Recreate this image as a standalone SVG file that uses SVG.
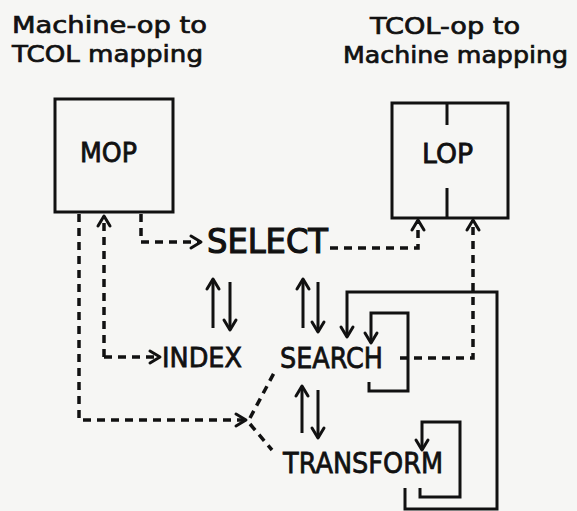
<svg xmlns="http://www.w3.org/2000/svg" width="577" height="511" viewBox="0 0 577 511">
<style>
.t{font-family:"DejaVu Sans","Liberation Sans",sans-serif;fill:#111;stroke:#111;stroke-width:0.8;}
.title{font-size:23px;stroke-width:0.7;}
.box{fill:none;stroke:#111;stroke-width:3;}
.solid{fill:none;stroke:#111;stroke-width:3;}
.dash{fill:none;stroke:#111;stroke-width:3.5;stroke-dasharray:8 6;}
.ah{fill:none;stroke:#111;stroke-width:3;stroke-dasharray:none;stroke-linecap:round;stroke-linejoin:round;}
</style>
<defs>
<marker id="arr" markerUnits="userSpaceOnUse" markerWidth="16" markerHeight="16" refX="11" refY="7" orient="auto" overflow="visible">
<path class="ah" d="M1,1 L11,7 L1,13"/>
</marker>
</defs>
<rect width="577" height="511" fill="#f6f6f4"/>

<g id="title-left">
<text class="t title" x="12" y="33" textLength="195" lengthAdjust="spacingAndGlyphs">Machine-op to</text>
<text class="t title" x="12" y="62" textLength="191" lengthAdjust="spacingAndGlyphs">TCOL mapping</text>
</g>
<g id="title-right">
<text class="t title" x="370" y="34" textLength="150" lengthAdjust="spacingAndGlyphs">TCOL-op to</text>
<text class="t title" x="343" y="63" textLength="225" lengthAdjust="spacingAndGlyphs">Machine mapping</text>
</g>

<g id="MOP">
<rect class="box" x="55" y="99" width="118" height="113"/>
<text class="t" x="80" y="162" font-size="26" textLength="57" lengthAdjust="spacingAndGlyphs">MOP</text>
</g>
<g id="LOP">
<rect class="box" x="392" y="103" width="116" height="115"/>
<path class="solid" d="M447,103 V125 M447,188 V218"/>
<text class="t" x="422" y="163" font-size="26" textLength="51" lengthAdjust="spacingAndGlyphs">LOP</text>
</g>
<g id="SELECT">
<text class="t" x="207" y="253" font-size="34" textLength="121" lengthAdjust="spacingAndGlyphs" style="stroke-width:1.2">SELECT</text>
</g>
<g id="INDEX">
<text class="t" x="162" y="367" font-size="27" textLength="80" lengthAdjust="spacingAndGlyphs">INDEX</text>
</g>
<g id="SEARCH">
<text class="t" x="280" y="368" font-size="29" textLength="103" lengthAdjust="spacingAndGlyphs">SEARCH</text>
</g>
<g id="TRANSFORM">
<text class="t" x="283" y="473" font-size="29" textLength="160" lengthAdjust="spacingAndGlyphs">TRANSFORM</text>
</g>

<g id="connectors">
<path class="dash" d="M141,214 V242 H201" marker-end="url(#arr)"/>
<path class="dash" d="M104,357 V216" marker-end="url(#arr)"/>
<path class="dash" d="M104,357 H160" marker-end="url(#arr)"/>
<path class="dash" d="M79,214 V420 H246" marker-end="url(#arr)"/>
<path class="dash" d="M250,418 L274,373"/>
<path class="dash" d="M250,424 L272,450"/>
<path class="dash" d="M330,248 H418 V220" marker-end="url(#arr)"/>
<path class="dash" d="M400,358 H473 V220" marker-end="url(#arr)"/>
<path class="solid" d="M213,328 V279" marker-end="url(#arr)"/>
<path class="solid" d="M230,282 V330" marker-end="url(#arr)"/>
<path class="solid" d="M303,328 V279" marker-end="url(#arr)"/>
<path class="solid" d="M318,282 V332" marker-end="url(#arr)"/>
<path class="solid" d="M302,433 V386" marker-end="url(#arr)"/>
<path class="solid" d="M318,390 V438" marker-end="url(#arr)"/>
<path class="solid" d="M405,488 V509 H497 V292 H347 V337" marker-end="url(#arr)"/>
<path class="solid" d="M369,382 V391 H408 V313 H371 V343" marker-end="url(#arr)"/>
<path class="solid" d="M420,488 V497 H460 V422 H422 V450" marker-end="url(#arr)"/>
</g>
</svg>
